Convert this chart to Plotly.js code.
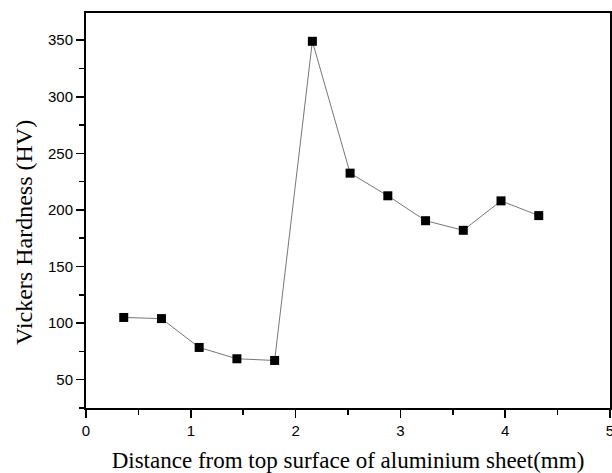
<!DOCTYPE html>
<html><head><meta charset="utf-8">
<script src="https://cdn.plot.ly/plotly-3.0.1.min.js"></script>
<style>html,body{margin:0;padding:0;background:#fff}#chart{width:612px;height:473px}</style>
</head><body><div id="chart"></div>
<script>
var distance = [0.36, 0.72, 1.08, 1.44, 1.80, 2.16, 2.52, 2.88, 3.24, 3.60, 3.96, 4.32];
var hardness = [105, 104, 78.5, 68.5, 67, 349, 232.5, 212.5, 190.5, 182, 208, 195];
var xTicks = [0, 1, 2, 3, 4, 5];
var yTicks = [50, 100, 150, 200, 250, 300, 350];

var trace = {
  x: distance, y: hardness, mode: 'lines+markers', type: 'scatter',
  line: {color: '#777', width: 1},
  marker: {symbol: 'square', size: 9, color: '#000'}
};
var layout = {
  width: 612, height: 473,
  margin: {l: 86, r: 2, t: 13, b: 65},
  paper_bgcolor: '#fff', plot_bgcolor: '#fff',
  showlegend: false,
  font: {family: 'Liberation Sans, Arial, sans-serif', size: 15, color: '#000'},
  xaxis: {
    range: [0, 5], tickvals: xTicks, ticks: 'outside', ticklen: 8, tickwidth: 1.5, tickcolor: '#000',
    minor: {dtick: 0.5, ticks: 'outside', ticklen: 5, tickwidth: 1.5, tickcolor: '#000', showgrid: false},
    showline: true, linecolor: '#000', linewidth: 2, mirror: true, showgrid: false, zeroline: false,
    tickfont: {size: 15}, ticklabeloverflow: 'allow',
    title: {text: 'Distance from top surface of aluminium sheet(mm)', font: {family: 'Liberation Serif, Times New Roman, serif', size: 23}, standoff: 16}
  },
  yaxis: {
    range: [25, 374], tickvals: yTicks, ticks: 'outside', ticklen: 8, tickwidth: 1.5, tickcolor: '#000',
    minor: {dtick: 25, ticks: 'outside', ticklen: 5, tickwidth: 1.5, tickcolor: '#000', showgrid: false},
    showline: true, linecolor: '#000', linewidth: 2, mirror: true, showgrid: false, zeroline: false,
    tickfont: {size: 15}
  },
  annotations: [{
    text: 'Vickers Hardness (HV)', textangle: -90, showarrow: false,
    xref: 'paper', yref: 'paper', x: 0, y: 0.443, xanchor: 'center', yanchor: 'middle', xshift: -62,
    font: {family: 'Liberation Serif, Times New Roman, serif', size: 24, color: '#000'}
  }]
};
Plotly.newPlot('chart', [trace], layout, {displayModeBar: false, staticPlot: true});
</script></body></html>
